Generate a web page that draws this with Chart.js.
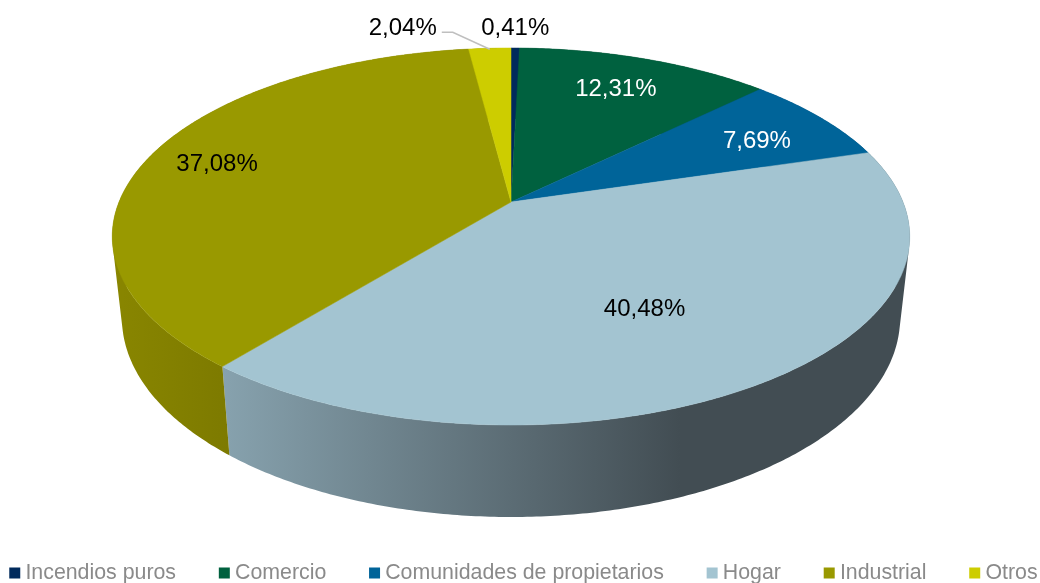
<!DOCTYPE html>
<html>
<head>
<meta charset="utf-8">
<title>Pie</title>
<script src="https://cdn.jsdelivr.net/npm/chart.js@4/dist/chart.umd.min.js"></script>
<style>
    body { margin: 0; background: #ffffff; }
    canvas { display: block; }
</style>
</head>
<body>
<canvas id="pie" width="1040" height="583"></canvas>
<script>
const categories = ["Incendios puros", "Comercio", "Comunidades de propietarios", "Hogar", "Industrial", "Otros"];
const shares = [0.41, 12.31, 7.69, 40.48, 37.08, 2.04];
const shareLabels = ["0,41%", "12,31%", "7,69%", "40,48%", "37,08%", "2,04%"];

const topColors = ["#002a5c", "#00613f", "#006499", "#a3c4d1", "#999900", "#cdcd00"];
const wallFrom = ["#001c3d", "#00402a", "#004366", "#87a2ae", "#898600", "#888800"];
const wallTo = ["#001c3d", "#00402a", "#004366", "#424d53", "#7d7a00", "#888800"];
const labelColors = ["#000000", "#ffffff", "#ffffff", "#000000", "#000000", "#000000"];

// where each label sits: fraction of the radius, then a small nudge in pixels
const labelRadius = [1, 0.8, 0.8, 0.6, 0.8, 1];
const labelNudgeX = [0, -6, -6, -10, -4, -87];
const labelNudgeY = [-20, 5, 8, 7, 1, -20];

// perspective of the tilted disc, top rim and bottom rim
const tilt = -0.183;
const topRim = { cx: 511, cy: 202, a: 392, b: 182.2 };
const bottomRim = { cx: 511, cy: 281.6, a: 382.5, b: 192.3 };

function project(rim, angle, r) {
    let u = r * Math.cos(angle);
    let v = r * Math.sin(angle);
    let d = 1 + tilt * v;
    return { x: rim.cx + rim.a * u / d, y: rim.cy + rim.b * v / d };
}

function rimPoints(rim, start, end) {
    let pts = [];
    let steps = Math.max(2, Math.ceil((end - start) / 0.01));
    for (let i = 0; i <= steps; i++) {
        pts.push(project(rim, start + (end - start) * i / steps, 1));
    }
    return pts;
}

const pie3d = {
    id: "pie3d",
    afterLayout(chart) {
        // the wide label padding would push the legend up, so pin it to the bottom line
        chart.legend.top = 514;
    },
    beforeDatasetsDraw(chart) {
        const ctx = chart.ctx;
        const arcs = chart.getDatasetMeta(0).data;

        // side walls first, the top face paints over the hidden parts
        arcs.forEach((arc, i) => {
            let upper = rimPoints(topRim, arc.startAngle, arc.endAngle);
            let lower = rimPoints(bottomRim, arc.startAngle, arc.endAngle);
            let xs = upper.map(p => p.x);
            // Hogar goes dark by x=680, Industrial is at its darkest by the Hogar edge
            let gradEnd = i == 3 ? 680 : i == 4 ? 230 : Math.max(...xs);
            let grad = ctx.createLinearGradient(Math.min(...xs), 0, gradEnd, 0);
            grad.addColorStop(0, wallFrom[i]);
            grad.addColorStop(1, wallTo[i]);
            // thin quads in one path, all wound the same way so they fill as a union
            ctx.beginPath();
            for (let k = 0; k < upper.length - 1; k++) {
                let quad = [upper[k], upper[k + 1], lower[k + 1], lower[k]];
                let area = 0;
                quad.forEach((p, n) => {
                    let q = quad[(n + 1) % 4];
                    area += p.x * q.y - q.x * p.y;
                });
                if (area < 0) quad.reverse();
                quad.forEach((p, n) => n ? ctx.lineTo(p.x, p.y) : ctx.moveTo(p.x, p.y));
                ctx.closePath();
            }
            ctx.fillStyle = grad;
            ctx.fill("nonzero");
        });

        arcs.forEach((arc, i) => {
            ctx.beginPath();
            ctx.moveTo(topRim.cx, topRim.cy);
            rimPoints(topRim, arc.startAngle, arc.endAngle).forEach(p => ctx.lineTo(p.x, p.y));
            ctx.closePath();
            ctx.fillStyle = topColors[i];
            ctx.strokeStyle = topColors[i];
            ctx.lineWidth = 0.5;
            ctx.fill();
            ctx.stroke();
        });

        return false;
    },
    afterDraw(chart) {
        const ctx = chart.ctx;
        const arcs = chart.getDatasetMeta(0).data;

        // leader line of the Otros label
        let otros = arcs[5];
        let tip = project(topRim, (otros.startAngle + otros.endAngle) / 2, 1);
        ctx.beginPath();
        ctx.moveTo(tip.x - 48, tip.y - 16);
        ctx.lineTo(tip.x - 37, tip.y - 16);
        ctx.lineTo(tip.x, tip.y + 1);
        ctx.strokeStyle = "#bfbfbf";
        ctx.lineWidth = 1.5;
        ctx.stroke();

        ctx.font = "24px 'Liberation Sans'";
        ctx.textAlign = "center";
        ctx.textBaseline = "middle";
        arcs.forEach((arc, i) => {
            let p = project(topRim, (arc.startAngle + arc.endAngle) / 2, labelRadius[i]);
            ctx.fillStyle = labelColors[i];
            ctx.fillText(shareLabels[i], p.x + labelNudgeX[i], p.y + labelNudgeY[i]);
        });
    }
};

new Chart("pie", {
    type: "pie",
    data: {
        labels: categories,
        datasets: [{
            data: shares,
            backgroundColor: topColors,
            borderWidth: 0
        }]
    },
    options: {
        responsive: false,
        animation: false,
        layout: { padding: { left: -35, right: -47.3 } },
        plugins: {
            tooltip: { enabled: false },
            legend: {
                display: true,
                position: "bottom",
                labels: {
                    usePointStyle: true,
                    pointStyle: "rect",
                    boxWidth: 0.01,
                    boxHeight: 11,
                    padding: 48.3,
                    color: "#8a8a8a",
                    font: { family: "'Liberation Sans'", size: 21.33 }
                }
            }
        }
    },
    plugins: [pie3d]
});
</script>
</body>
</html>
